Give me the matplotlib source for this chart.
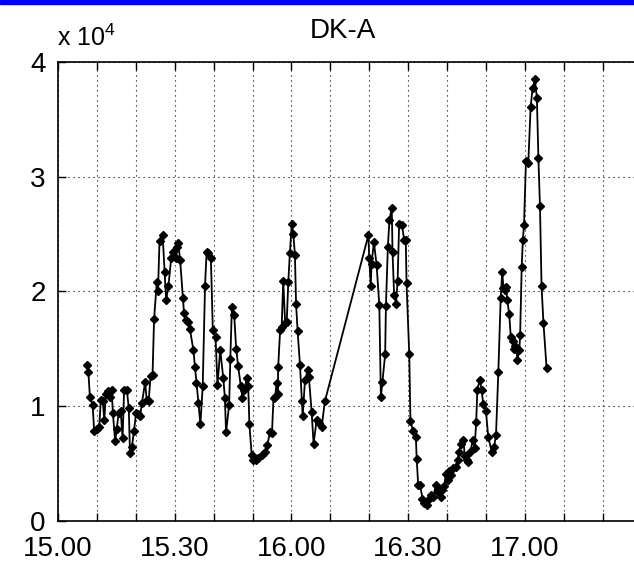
import matplotlib
matplotlib.use("Agg")
import matplotlib.pyplot as plt
from matplotlib.patches import Rectangle

plt.rcParams['font.family'] = ['Liberation Sans', 'DejaVu Sans']
plt.rcParams['mathtext.fontset'] = 'custom'
plt.rcParams['mathtext.rm'] = 'Liberation Sans'

# minutes after 15.00
minutes = [
    7.4, 7.8, 8.2, 8.9, 9.3, 10.1, 10.6, 11.0, 11.5, 11.9,
    12.3, 12.9, 13.4, 13.8, 14.1, 14.7, 15.1, 15.6, 16.1, 16.6,
    17.0, 17.7, 18.2, 18.5, 19.0, 19.5, 20.1, 20.6, 21.1, 21.6,
    22.4, 22.8, 23.3, 23.8, 24.3, 24.7, 25.4, 25.7, 26.1, 26.9,
    27.4, 27.8, 28.4, 29.1, 29.6, 30.3, 30.5, 30.9, 31.4, 32.1,
    32.4, 33.0, 33.5, 33.9, 34.8, 35.2, 35.6, 36.1, 36.6, 37.2,
    37.8, 38.2, 38.6, 39.3, 39.8, 40.5, 41.0, 41.7, 42.5, 42.9,
    43.2, 44.0, 44.3, 44.7, 45.3, 45.8, 46.3, 47.0, 47.4, 47.9,
    48.5, 48.9, 49.2, 49.8, 50.2, 50.9, 51.5, 52.4, 53.2, 53.8,
    54.5, 55.0, 55.4, 55.8, 56.2, 56.5, 56.6, 57.1, 57.5, 57.9,
    58.4, 58.8, 59.2, 59.6, 60.1, 60.5, 60.9, 61.2, 61.6, 62.2,
    62.7, 62.9, 63.5, 64.2, 64.5, 65.2, 65.7, 66.5, 67.1, 67.8,
    68.6,
    79.8, 80.0, 80.4, 80.6, 81.2, 81.9, 82.6, 83.0, 83.4, 84.1,
    84.3, 84.8, 85.2, 85.8, 86.0, 86.4, 86.9, 87.3, 87.7, 88.4,
    89.0, 89.4, 89.6, 90.3, 90.6, 91.3, 92.0, 92.2, 92.6, 93.1,
    93.7, 94.2, 94.8, 95.2, 95.9, 96.5, 97.1, 97.6, 98.0, 98.5,
    98.8, 99.3, 99.7, 100.2, 100.5, 101.0, 101.6, 102.2, 102.8, 103.1,
    103.6, 104.2, 104.6, 105.1, 105.5, 106.0, 106.6, 107.1, 107.5, 107.8,
    108.4, 108.9, 109.3, 110.0, 110.6, 111.5, 112.1, 112.6, 113.2, 113.8,
    114.2, 114.5, 114.9, 115.2, 115.5, 116.0, 116.4, 116.9, 117.2, 117.5,
    117.9, 118.1, 118.6, 118.8, 119.2, 119.5, 119.8, 120.3, 120.9, 121.5,
    122.0, 122.6, 123.1, 123.5, 123.9, 124.3, 124.8, 125.6,
]

counts = [
    13600, 13000, 10800, 10100, 7800, 8000, 8200, 10500, 10400, 8800,
    11000, 11300, 10800, 11400, 9400, 6900, 8000, 9400, 9600, 7200,
    11400, 11400, 9800, 5900, 6400, 7800, 9400, 9300, 9100, 10300,
    12100, 10500, 10400, 12600, 12700, 17600, 20800, 20000, 24400, 24900,
    21700, 19200, 20500, 22900, 23400, 22900, 23900, 24200, 22700, 19400,
    18100, 17500, 17300, 16700, 14900, 13400, 12000, 10300, 8400, 11700,
    20500, 23400, 23300, 22900, 16600, 16000, 11800, 14900, 12400, 10700,
    7700, 10100, 14100, 18600, 17900, 15000, 13500, 11700, 10700, 11400,
    12400, 11700, 8400, 5700, 5300, 5300, 5500, 5700, 6000, 6600,
    7700, 7600, 10700, 10800, 12000, 11000, 13400, 16600, 16900, 20900,
    17200, 17300, 20800, 23300, 25900, 25000, 23200, 18900, 16500, 13600,
    10400, 9100, 12300, 13100, 12500, 9500, 6700, 8800, 8500, 8200,
    10400,
    24900, 22900, 20500, 22400, 24300, 22300, 18800, 10800, 12100, 14500,
    18700, 23900, 26200, 27300, 23400, 19700, 18900, 20900, 25900, 25800,
    24500, 24500, 20700, 14500, 8700, 7800, 7300, 5400, 3100, 3100,
    1900, 1500, 1400, 1800, 2200, 2100, 3100, 2500, 2700, 2100,
    2700, 3000, 4100, 3500, 4300, 4000, 4600, 4700, 5300, 6000,
    6700, 7000, 5600, 5300, 5100, 6000, 7000, 6300, 8600, 11400,
    12300, 11400, 10200, 9600, 7300, 6000, 6400, 7500, 13000, 19400,
    21700, 20300, 20100, 20400, 19200, 18000, 16000, 15700, 15000, 15200,
    14900, 14000, 14900, 16200, 22100, 24500, 25800, 31400, 31200, 36100,
    37700, 38500, 36900, 31600, 27400, 20500, 17200, 13300,
]

tick_minutes = list(range(0, 151, 10))
tick_labels = ['15.00', '15.30', '16.00', '16.30', '17.00']
y_ticks = [0, 1, 2, 3, 4]

fig = plt.figure(figsize=(6.34, 5.69), dpi=100)
# axes run on past the right edge of the figure
ax = fig.add_axes([58 / 634, 48.4 / 569, 150 * 3.89 / 634, 458.6 / 569])

scaled = [c / 1e4 for c in counts]
ax.plot(minutes, scaled, color='black', linewidth=1.3,
        marker='D', markersize=3.8, markerfacecolor='black', markeredgecolor='black')

ax.set_xlim(0, 150)
ax.set_ylim(0, 4)
ax.set_xticks(tick_minutes)
labels = []
for m in tick_minutes:
    labels.append(tick_labels[m // 30] if m % 30 == 0 and m // 30 < len(tick_labels) else '')
ax.set_xticklabels(labels)
ax.set_yticks(y_ticks)
ax.set_yticklabels([str(v) for v in y_ticks])

ax.tick_params(direction='in', length=6, width=1, top=True, right=False,
               labelsize=20, colors='black')
ax.tick_params(axis='x', pad=11)
ax.tick_params(axis='y', pad=9)
ax.grid(True, color='black', linestyle=(0, (1, 3.5)), linewidth=0.8)
for side in ['left', 'bottom', 'top']:
    ax.spines[side].set_linewidth(1.2)

fig.text(343 / 634, 1 - 31 / 569, 'DK-A', ha='center', va='center', fontsize=20)
fig.text(57 / 634, 1 - 46 / 569, r'x 10$^{4}$', ha='left', va='baseline', fontsize=18)

# blue strip along the top edge
fig.patches.append(Rectangle((0, 1 - 4 / 569), 1, 4 / 569, transform=fig.transFigure,
                             color='#0000ff', zorder=10))

fig.savefig('out.png', dpi=100)
